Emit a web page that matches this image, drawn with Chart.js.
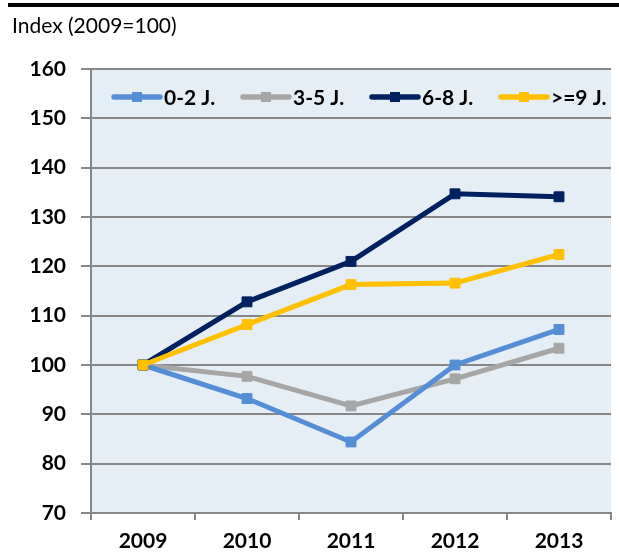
<!DOCTYPE html>
<html>
<head>
<meta charset="utf-8">
<script src="https://cdn.jsdelivr.net/npm/chart.js@4.4.1/dist/chart.umd.min.js"></script>
<style>
  html, body { margin: 0; padding: 0; background: #fff; }
  #wrap { position: relative; width: 619px; height: 554px; }
</style>
</head>
<body>
<div id="wrap"><canvas id="grafica" width="619" height="554"></canvas></div>
<script>
// datos
var anios = ["2009", "2010", "2011", "2012", "2013"];
var serieNombres = ["0-2 J.", "3-5 J.", "6-8 J.", ">=9 J."];
var serie02 = [100, 93.2, 84.4, 100.0, 107.2];
var serie35 = [100, 97.7, 91.7, 97.2, 103.4];
var serie68 = [100, 112.8, 121.0, 134.7, 134.1];
var serie9 = [100, 108.2, 116.3, 116.6, 122.4];
var ejeY = { min: 70, max: 160, paso: 10 };
var titulo = "Index (2009=100)";

var colores = ["#558ED5", "#A6A6A6", "#002060", "#FFC000"];
var gris = "#878787";
var fuente = "Lato, 'Open Sans', sans-serif";

// fondo del area, linea negra de arriba y titulo
var fondoPlugin = {
  id: "fondo",
  beforeDraw: function (chart) {
    var ctx = chart.ctx;
    var a = chart.chartArea;
    ctx.save();
    ctx.fillStyle = "#E6EEF5";
    ctx.fillRect(a.left, a.top, a.right - a.left, a.bottom - a.top);
    ctx.fillStyle = "#000";
    ctx.fillRect(8, 3, 611, 4);
    ctx.font = "21px " + fuente;
    ctx.textBaseline = "middle";
    ctx.fillText(titulo, 12, 26);
    ctx.restore();
  }
};

// leyenda dentro del area del grafico
var leyendaPlugin = {
  id: "leyendaDentro",
  afterDraw: function (chart) {
    var ctx = chart.ctx;
    var xs = [112, 241, 370, 499];
    var y = 97;
    ctx.save();
    ctx.font = "bold 21px " + fuente;
    ctx.textBaseline = "middle";
    chart.data.datasets.forEach(function (ds, i) {
      var x = xs[i];
      ctx.strokeStyle = ds.borderColor;
      ctx.lineWidth = 5.5;
      ctx.lineCap = "round";
      ctx.beginPath();
      ctx.moveTo(x + 2, y);
      ctx.lineTo(x + 48, y);
      ctx.stroke();
      ctx.fillStyle = ds.borderColor;
      ctx.fillRect(x + 20, y - 5, 10, 10);
      ctx.fillStyle = "#000";
      ctx.fillText(ds.label, x + 52, y + 1);
    });
    ctx.restore();
  }
};

function linea(nombre, datos, color, orden) {
  return {
    label: nombre,
    data: datos,
    borderColor: color,
    backgroundColor: color,
    borderWidth: 5,
    pointStyle: "rect",
    pointRadius: 7,
    pointBorderWidth: 1,
    pointBackgroundColor: color,
    pointBorderColor: color,
    tension: 0,
    order: orden
  };
}

new Chart("grafica", {
  type: "line",
  data: {
    labels: anios,
    datasets: [
      linea(serieNombres[0], serie02, colores[0], 3),
      linea(serieNombres[1], serie35, colores[1], 4),
      linea(serieNombres[2], serie68, colores[2], 2),
      linea(serieNombres[3], serie9, colores[3], 1)
    ]
  },
  options: {
    responsive: false,
    animation: false,
    layout: { padding: { top: 69, right: 6, left: 0, bottom: 0 } },
    plugins: {
      legend: { display: false },
      tooltip: { enabled: false }
    },
    scales: {
      x: {
        offset: true,
        afterFit: function (s) { s.height = 41; },
        grid: {
          offset: true,
          drawOnChartArea: false,
          drawTicks: true,
          tickLength: 7,
          color: gris,
          lineWidth: 2
        },
        border: { display: true, color: gris, width: 2 },
        ticks: {
          color: "#000",
          padding: 9,
          font: { family: fuente, size: 21, weight: "bold" }
        }
      },
      y: {
        min: ejeY.min,
        max: ejeY.max,
        afterFit: function (s) { s.width = 91; },
        grid: {
          color: gris,
          lineWidth: 2,
          tickLength: 10
        },
        border: { display: true, color: gris, width: 2 },
        ticks: {
          stepSize: ejeY.paso,
          color: "#000",
          padding: 15,
          font: { family: fuente, size: 21, weight: "bold" }
        }
      }
    }
  },
  plugins: [fondoPlugin, leyendaPlugin]
});
</script>
</body>
</html>
